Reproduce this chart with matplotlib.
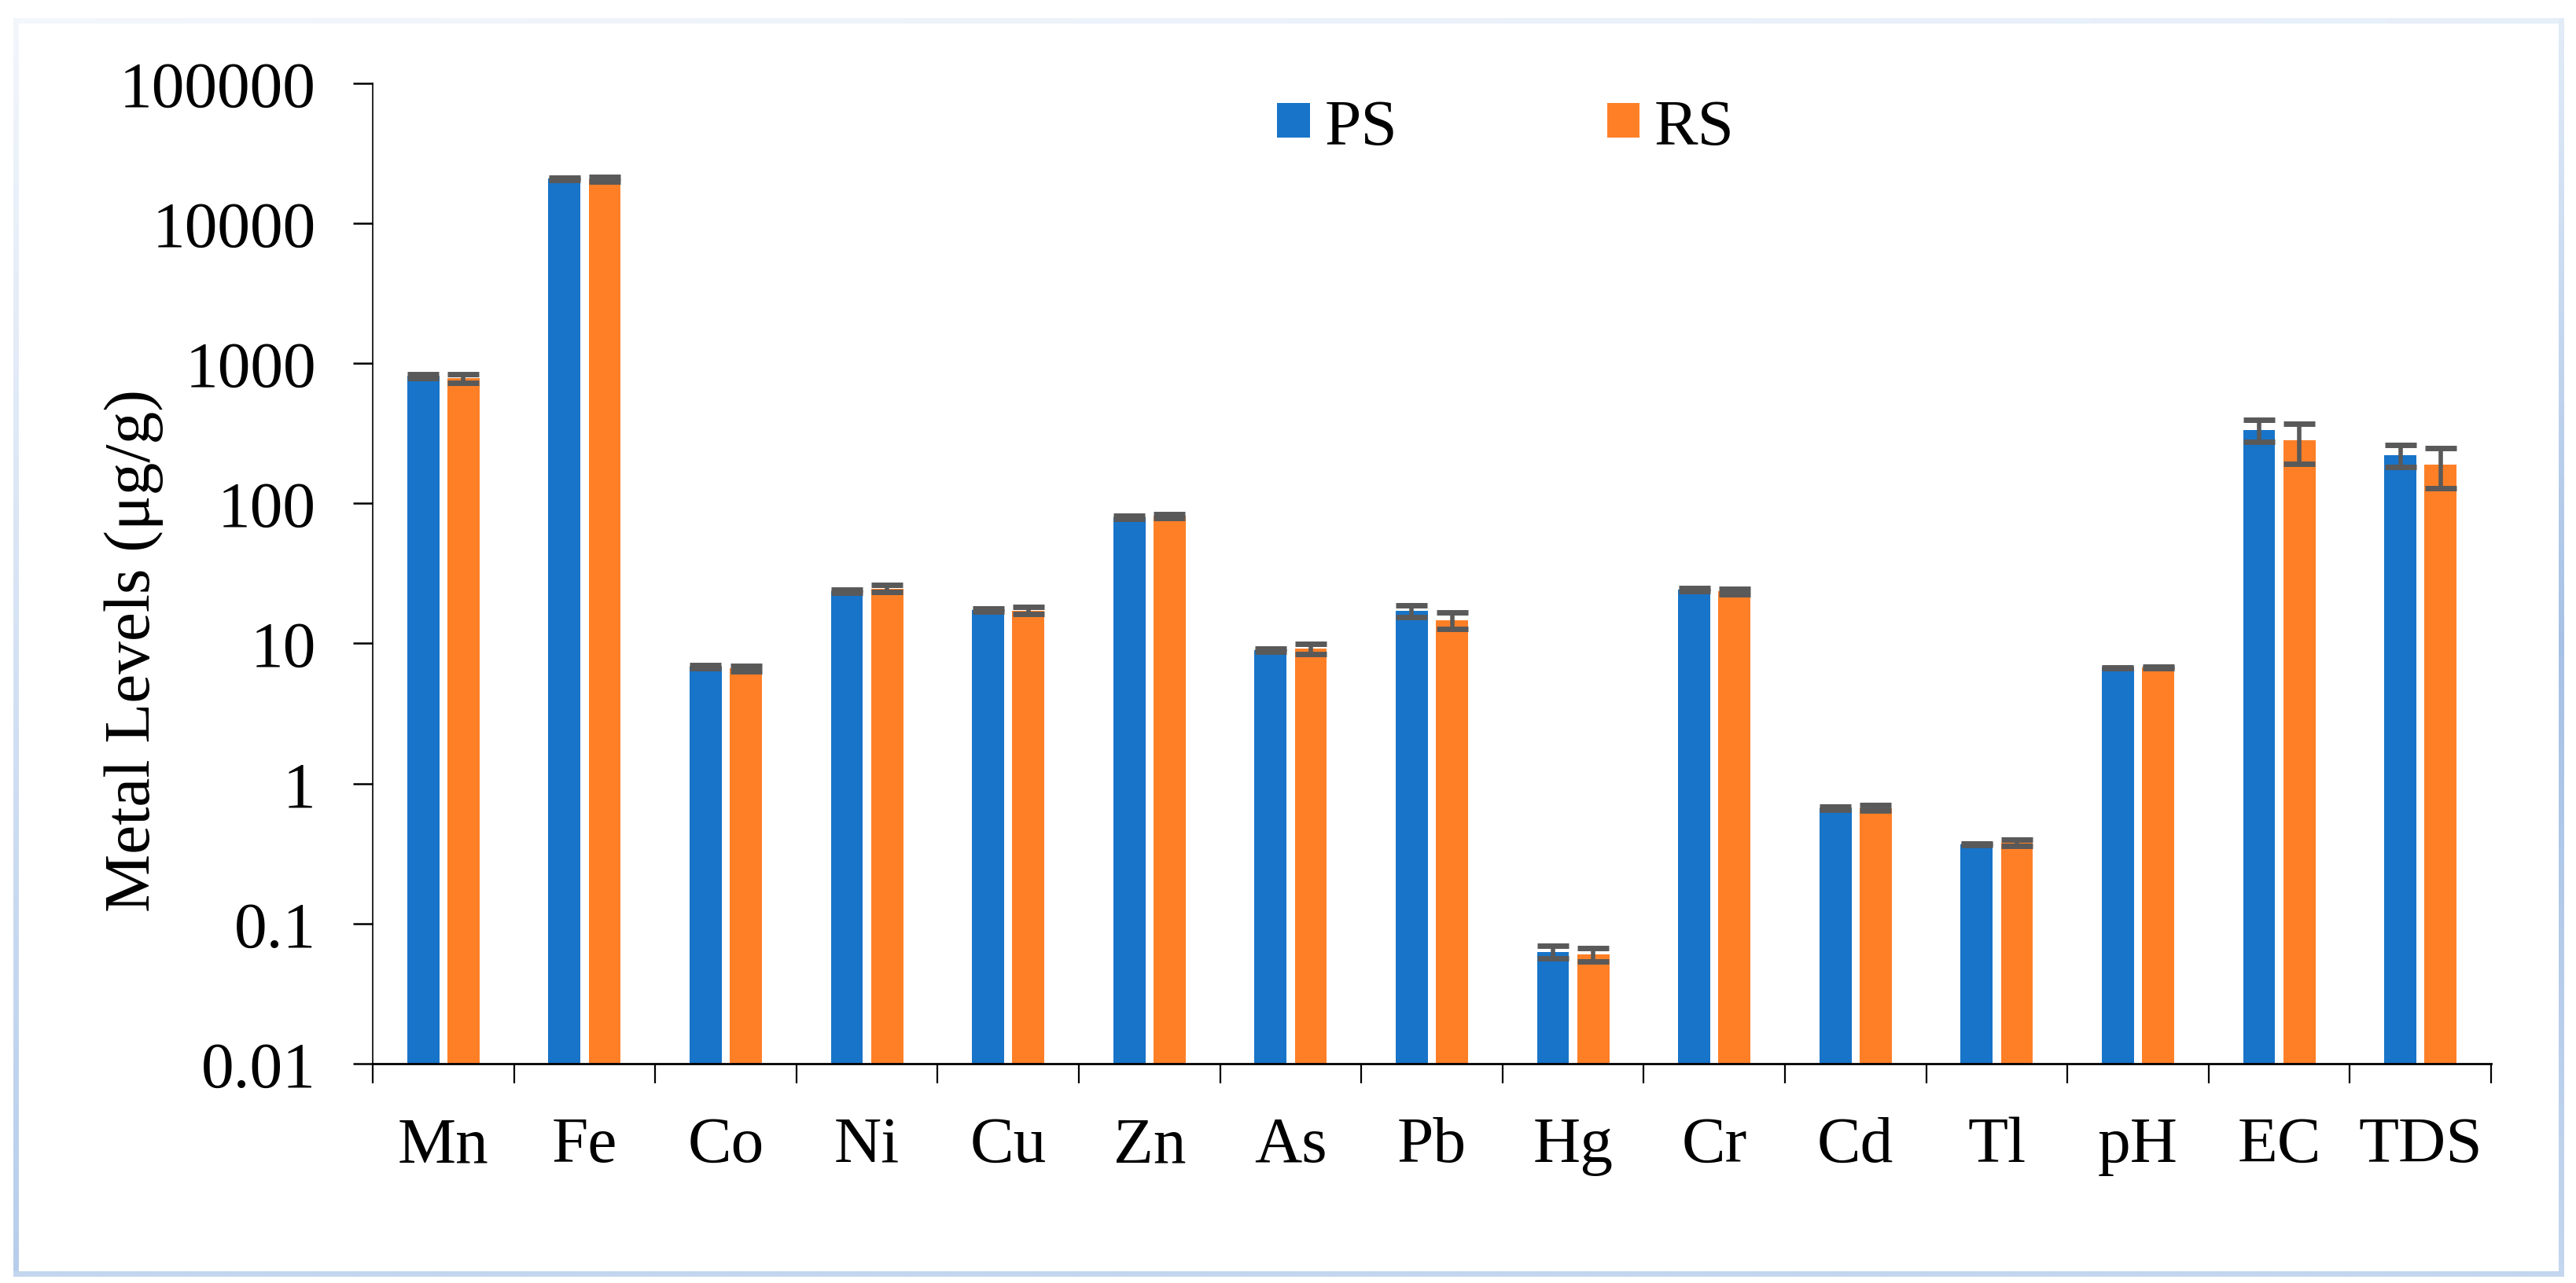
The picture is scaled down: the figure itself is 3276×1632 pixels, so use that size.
import numpy as np
import matplotlib
matplotlib.use('Agg')
from matplotlib import pyplot as plt
from matplotlib.ticker import FixedLocator, FuncFormatter
from matplotlib.collections import LineCollection
from matplotlib.colors import to_rgb

plt.rcParams['font.family'] = ['Liberation Serif', 'DejaVu Serif']

# data
categories = ['Mn', 'Fe', 'Co', 'Ni', 'Cu', 'Zn', 'As', 'Pb', 'Hg', 'Cr',
              'Cd', 'Tl', 'pH', 'EC', 'TDS']
ps_values = [813, 20800, 6.8, 23.6, 17.3, 79.4, 8.97, 17.1, 0.0628, 24.2,
             0.667, 0.368, 6.73, 334, 222]
rs_values = [781, 20550, 6.65, 24.7, 17.2, 81.5, 9.18, 14.7, 0.060, 23.5,
             0.67, 0.378, 6.73, 281, 189]
ps_err = [27, 320, 0.18, 0.6, 0.4, 2.0, 0.2, 1.7, 0.0065, 0.6,
          0.013, 0.007, 0.05, 60, 40]
rs_err = [58, 800, 0.29, 1.5, 1.0, 2.7, 0.8, 1.95, 0.0065, 1.05,
          0.03, 0.019, 0.09, 90, 60]
y_ticks = [0.01, 0.1, 1, 10, 100, 1000, 10000, 100000]
series_names = ['PS', 'RS']

blue = '#1874C8'
orange = '#FF7F27'
err_color = '#595959'
fs = 30

W, H = 3276, 1633
fig = plt.figure(figsize=(W / 200, H / 200), dpi=200)
ax = fig.add_axes([474 / W, 1 - 1354 / H, 2694 / W, 1247.2 / H])

x = np.arange(len(categories))
bw = 0.228
off = 0.1426

err_kw = dict(ecolor=err_color, elinewidth=2.0, capsize=7.2, capthick=2.5, zorder=3)
ax.bar(x - off, ps_values, bw, color=blue, label=series_names[0], zorder=2,
       yerr=ps_err, error_kw=err_kw)
ax.bar(x + off, rs_values, bw, color=orange, label=series_names[1], zorder=2,
       yerr=rs_err, error_kw=err_kw)

ax.set_yscale('log')
ax.set_ylim(0.01, 100000)
ax.set_xlim(-0.5, len(categories) - 0.5)

ax.yaxis.set_major_locator(FixedLocator(y_ticks))
ax.yaxis.set_minor_locator(FixedLocator([]))
ax.yaxis.set_major_formatter(FuncFormatter(lambda v, p: '{:g}'.format(v)))
ax.tick_params(axis='y', which='major', length=9, width=0.9, pad=17,
               labelsize=fs, direction='out')

# group boundary ticks as major, labels at the centres via minor ticks
ax.xaxis.set_major_locator(FixedLocator(np.arange(len(categories) + 1) - 0.5))
ax.xaxis.set_major_formatter(FuncFormatter(lambda v, p: ''))
ax.xaxis.set_minor_locator(FixedLocator(x))
ax.set_xticks(x, categories, minor=True)
ax.tick_params(axis='x', which='major', length=9, width=0.8, direction='out')
ax.tick_params(axis='x', which='minor', length=0, pad=24, labelsize=fs)

for s in ['top', 'right']:
    ax.spines[s].set_visible(False)
ax.spines['left'].set_linewidth(0.6)
ax.spines['bottom'].set_linewidth(1.0)

ax.set_ylabel('Metal Levels (μg/g)', fontsize=fs)
ax.yaxis.set_label_coords((208 - 474) / 2694, (1354 - 828) / 1247.2)

fig.legend(loc='center', bbox_to_anchor=(1915 / W, 1 - 164 / H), ncol=2,
           frameon=False, fontsize=fs, handlelength=0.5, handleheight=0.42,
           handletextpad=0.22, columnspacing=3.2, borderpad=0)

# light blue frame around the picture
def edge(p0, p1, c0, c1, n=60):
    t = np.linspace(0, 1, n + 1)
    pts = np.column_stack([p0[0] + (p1[0] - p0[0]) * t, p0[1] + (p1[1] - p0[1]) * t])
    segs = np.stack([pts[:-1], pts[1:]], axis=1)
    a, b = np.array(to_rgb(c0)), np.array(to_rgb(c1))
    cols = [a + (b - a) * v for v in (t[:-1] + t[1:]) / 2]
    return segs, cols

x0, x1 = 20 / W, 3257 / W
y0, y1 = 1 - 1621 / H, 1 - 27 / H
segs, cols = [], []
for p0, p1, c0, c1 in [((x0, y1), (x1, y1), '#f3f6fb', '#e6eef8'),
                       ((x0, y1), (x0, y0), '#f3f6fb', '#b6cdeb'),
                       ((x0, y0), (x1, y0), '#c4d6ee', '#c4d6ee'),
                       ((x1, y1), (x1, (y0 + y1) / 2), '#e3ecf7', '#a6c1e6'),
                       ((x1, (y0 + y1) / 2), (x1, y0), '#a6c1e6', '#c4d6ee')]:
    s, c = edge(p0, p1, c0, c1)
    segs.extend(s)
    cols.extend(c)
frame = LineCollection(segs, colors=cols, linewidths=2.5, transform=fig.transFigure,
                       capstyle='projecting')
fig.add_artist(frame)

fig.savefig('out.png', dpi=200, facecolor='white')
